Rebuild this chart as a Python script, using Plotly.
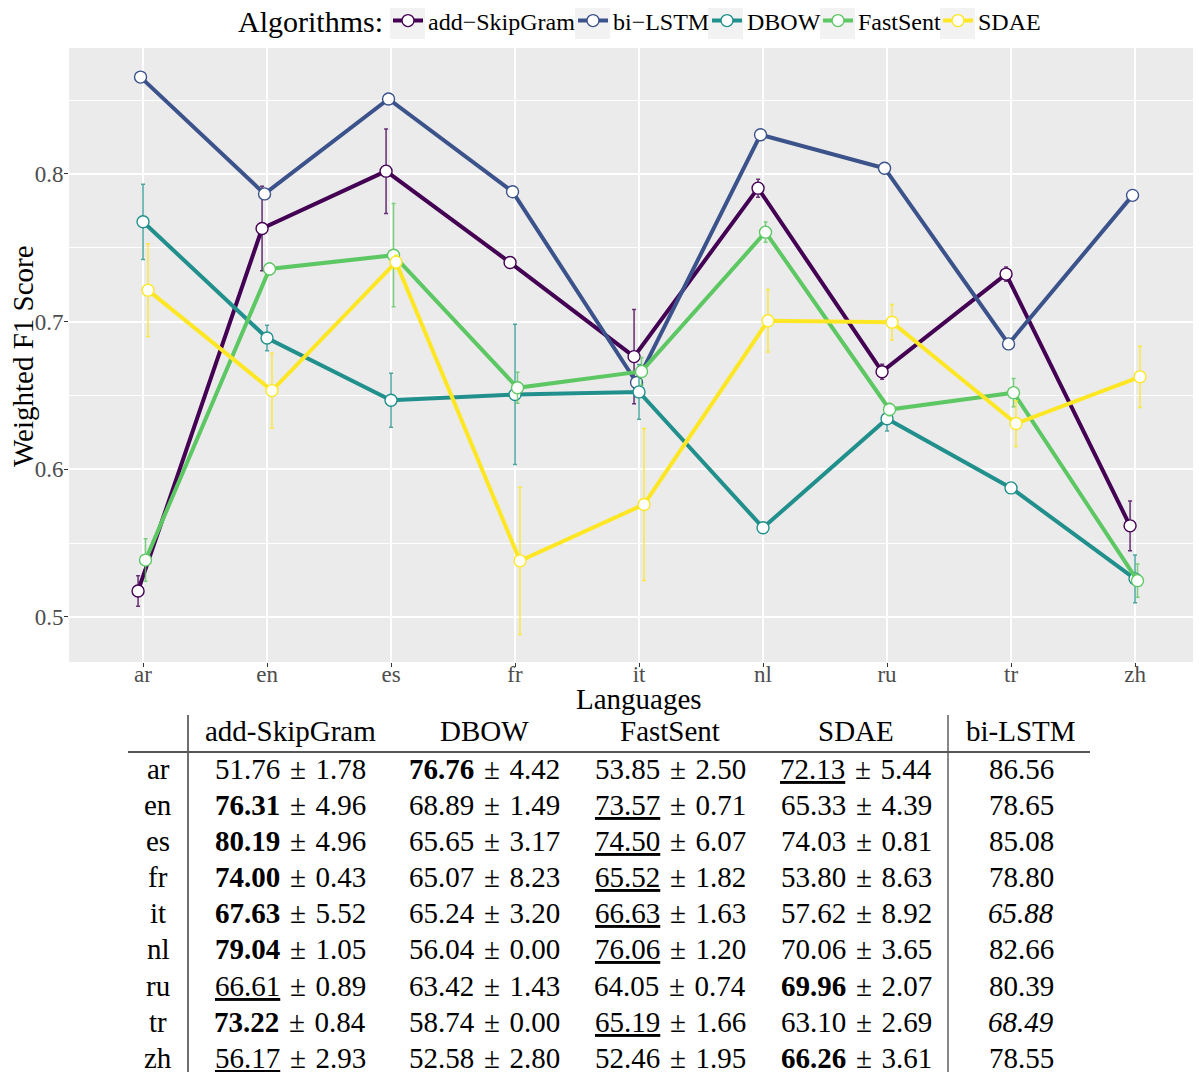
import plotly.graph_objects as go

# ---------------- data ----------------
langs = ["ar", "en", "es", "fr", "it", "nl", "ru", "tr", "zh"]
algorithms = ["add\u2212SkipGram", "bi\u2212LSTM", "DBOW", "FastSent", "SDAE"]
colors = ["#440154", "#3B528B", "#21908C", "#5DC863", "#FDE725"]
err_colors = ["rgba(68,1,84,0.8)", "rgba(59,82,139,0.8)", "rgba(33,144,140,0.8)",
              "rgba(93,200,99,0.8)", "rgba(253,231,37,0.85)"]
dodge = [-0.04, -0.02, 0.0, 0.02, 0.04]

# plotted weighted F1 (mean) and error bar half-lengths
f1_skipgram = [0.5176, 0.7631, 0.8019, 0.7400, 0.6763, 0.7904, 0.6661, 0.7322, 0.5617]
err_skipgram = [0.0103, 0.0286, 0.0286, 0.0025, 0.0319, 0.0061, 0.0051, 0.0048, 0.0169]
f1_bilstm = [0.8656, 0.7865, 0.8508, 0.7880, 0.6588, 0.8266, 0.8039, 0.6849, 0.7855]
err_bilstm = [0, 0, 0, 0, 0, 0, 0, 0, 0]
f1_dbow = [0.7676, 0.6889, 0.6468, 0.6507, 0.6524, 0.5604, 0.6342, 0.5874, 0.5258]
err_dbow = [0.0255, 0.0086, 0.0183, 0.0475, 0.0185, 0.0, 0.0083, 0.0, 0.0162]
f1_fastsent = [0.5385, 0.7357, 0.7450, 0.6552, 0.6663, 0.7606, 0.6405, 0.6519, 0.5246]
err_fastsent = [0.0144, 0.0041, 0.0350, 0.0105, 0.0094, 0.0069, 0.0043, 0.0096, 0.0113]
f1_sdae = [0.7213, 0.6533, 0.7403, 0.5380, 0.5762, 0.7006, 0.6996, 0.6310, 0.6626]
err_sdae = [0.0314, 0.0253, 0.0047, 0.0498, 0.0515, 0.0211, 0.0120, 0.0155, 0.0208]

y_ticks = [0.5, 0.6, 0.7, 0.8]
y_minor = [0.55, 0.65, 0.75, 0.85]

# table contents
tbl_headers = ["add-SkipGram", "DBOW", "FastSent", "SDAE", "bi-LSTM"]
tbl_skipgram = ["51.76", "76.31", "80.19", "74.00", "67.63", "79.04", "66.61", "73.22", "56.17"]
sd_skipgram = ["1.78", "4.96", "4.96", "0.43", "5.52", "1.05", "0.89", "0.84", "2.93"]
sty_skipgram = ["", "b", "b", "b", "b", "b", "u", "b", "u"]
tbl_dbow = ["76.76", "68.89", "65.65", "65.07", "65.24", "56.04", "63.42", "58.74", "52.58"]
sd_dbow = ["4.42", "1.49", "3.17", "8.23", "3.20", "0.00", "1.43", "0.00", "2.80"]
sty_dbow = ["b", "", "", "", "", "", "", "", ""]
tbl_fastsent = ["53.85", "73.57", "74.50", "65.52", "66.63", "76.06", "64.05", "65.19", "52.46"]
sd_fastsent = ["2.50", "0.71", "6.07", "1.82", "1.63", "1.20", "0.74", "1.66", "1.95"]
sty_fastsent = ["", "u", "u", "u", "u", "u", "", "u", ""]
tbl_sdae = ["72.13", "65.33", "74.03", "53.80", "57.62", "70.06", "69.96", "63.10", "66.26"]
sd_sdae = ["5.44", "4.39", "0.81", "8.63", "8.92", "3.65", "2.07", "2.69", "3.61"]
sty_sdae = ["u", "", "", "", "", "", "b", "", "b"]
tbl_bilstm = ["86.56", "78.65", "85.08", "78.80", "65.88", "82.66", "80.39", "68.49", "78.55"]
sty_bilstm = ["", "", "", "", "i", "", "", "i", ""]

# ---------------- figure geometry (screen pixels; page body has 8px margin) ----------------
OFF = 8
W, H = 1201 - OFF, 1072 - OFF
L, R, T = 69 - OFF, 0, 48 - OFF
B = H - (662 - OFF)
PW, PH = W - L - R, H - T - B


def px(xs):
    return (xs - OFF - L) / PW


def py(ys):
    return (H - B - (ys - OFF)) / PH


FONT = "Liberation Serif"
fig = go.Figure()

legend_names = ["legend", "legend2", "legend3", "legend4", "legend5"]
legend_text_x = [428, 613, 747, 858, 978]
key_box_x = [390, 575, 708, 820, 940]

series = [(f1_skipgram, err_skipgram), (f1_bilstm, err_bilstm), (f1_dbow, err_dbow),
          (f1_fastsent, err_fastsent), (f1_sdae, err_sdae)]
for k, (vals, errs) in enumerate(series):
    xs = [i + dodge[k] for i in range(len(langs))]
    fig.add_trace(go.Scatter(
        x=xs, y=vals, name=algorithms[k], mode="lines+markers", legend=legend_names[k],
        showlegend=True,
        line=dict(color=colors[k], width=4),
        marker=dict(size=12, color="white", line=dict(color=colors[k], width=1.4)),
        error_y=dict(type="data", array=errs, visible=any(e > 0 for e in errs),
                     color=err_colors[k], thickness=1.5, width=2),
    ))

layout_legends = {}
for k, nm in enumerate(legend_names):
    layout_legends[nm] = dict(orientation="h", xref="container", yref="container",
                              x=(legend_text_x[k] - 40 - OFF) / W, xanchor="left",
                              y=1 - (21 - OFF) / H, yanchor="middle",
                              font=dict(size=24, family=FONT), itemwidth=30,
                              bgcolor="rgba(0,0,0,0)", borderwidth=0, visible=True)

fig.update_layout(
    width=W, height=H, showlegend=True,
    margin=dict(l=L, r=R, t=T, b=B, autoexpand=False),
    plot_bgcolor="#EBEBEB", paper_bgcolor="white",
    font=dict(family=FONT, color="black"),
    xaxis=dict(range=[-0.597, 8.532], tickmode="array", tickvals=list(range(len(langs))),
               ticktext=langs, showgrid=True, gridcolor="white", gridwidth=1.6,
               zeroline=False, showline=False, ticks="outside", ticklen=4,
               tickcolor="#333333", tickwidth=1, automargin=False, ticklabelstandoff=-13,
               tickfont=dict(size=23, color="#4D4D4D", family=FONT)),
    yaxis=dict(range=[0.4695, 0.8853], tickmode="array", tickvals=y_ticks,
               ticktext=[f"{v:.1f}" for v in y_ticks], showgrid=True, gridcolor="white",
               gridwidth=1.6, zeroline=False, showline=False, ticks="outside", ticklen=4,
               tickcolor="#333333", tickwidth=1, automargin=False, ticklabelstandoff=-4,
               tickfont=dict(size=23, color="#4D4D4D", family=FONT),
               minor=dict(tickmode="array", tickvals=y_minor, showgrid=True,
                          gridcolor="white", gridwidth=0.8, ticks="")),
    **layout_legends,
)

ann = []
ann.append(dict(text="Algorithms:", x=px(385), y=py(22), xref="paper", yref="paper",
                showarrow=False, font=dict(size=30, family=FONT),
                xanchor="right", yanchor="middle"))
ann.append(dict(text="Weighted F1 Score", x=px(23), y=py(356), xref="paper", yref="paper",
                textangle=-90, showarrow=False, font=dict(size=29, family=FONT),
                xanchor="center", yanchor="middle"))
ann.append(dict(text="Languages", x=px(639), y=py(699), xref="paper", yref="paper",
                showarrow=False, font=dict(size=29, family=FONT),
                xanchor="center", yanchor="middle"))

# table
col_x = [290, 484, 670, 856, 1021]
label_x = 158
header_y = 731
row_y = [769, 805, 841, 877, 913, 949, 986, 1022, 1058]
TF = 29
U_STYLE = "text-decoration:underline;text-decoration-color:#777777;text-decoration-thickness:1px"


def cell(txt, sty):
    if sty == "b":
        return f"<b>{txt}</b>"
    if sty == "u":
        return f'<span style="{U_STYLE}">{txt}</span>'
    if sty == "i":
        return f"<i>{txt}</i>"
    return txt


def add_text(txt, x, y):
    ann.append(dict(text=txt, x=px(x), y=py(y), xref="paper", yref="paper",
                    showarrow=False, font=dict(size=TF, family=FONT, color="black"),
                    xanchor="center", yanchor="middle"))


for j, h in enumerate(tbl_headers):
    add_text(h, col_x[j], header_y)

cols = [(tbl_skipgram, sd_skipgram, sty_skipgram), (tbl_dbow, sd_dbow, sty_dbow),
        (tbl_fastsent, sd_fastsent, sty_fastsent), (tbl_sdae, sd_sdae, sty_sdae)]
SP = "\u2004"
for i, lang in enumerate(langs):
    add_text(lang, label_x, row_y[i])
    for j, (m, s, st) in enumerate(cols):
        add_text(cell(m[i], st[i]) + SP + "\u00b1" + SP + s[i], col_x[j], row_y[i])
    add_text(cell(tbl_bilstm[i], sty_bilstm[i]), col_x[4], row_y[i])

fig.update_layout(annotations=ann)

shapes = []
# grey legend key backgrounds
for bx in key_box_x:
    shapes.append(dict(type="rect", xref="paper", yref="paper", x0=px(bx), x1=px(bx + 35),
                       y0=py(39), y1=py(3), fillcolor="#F2F2F2", line=dict(width=0),
                       layer="below"))
shapes += [
    dict(type="line", xref="paper", yref="paper", x0=px(188), x1=px(188), y0=py(715), y1=py(1075),
         line=dict(color="#333333", width=1.4)),
    dict(type="line", xref="paper", yref="paper", x0=px(948), x1=px(948), y0=py(715), y1=py(1075),
         line=dict(color="#555555", width=1.4)),
    dict(type="line", xref="paper", yref="paper", x0=px(128), x1=px(1090), y0=py(752), y1=py(752),
         line=dict(color="#555555", width=2)),
]
fig.update_layout(shapes=shapes)

fig.write_html("out.html")
